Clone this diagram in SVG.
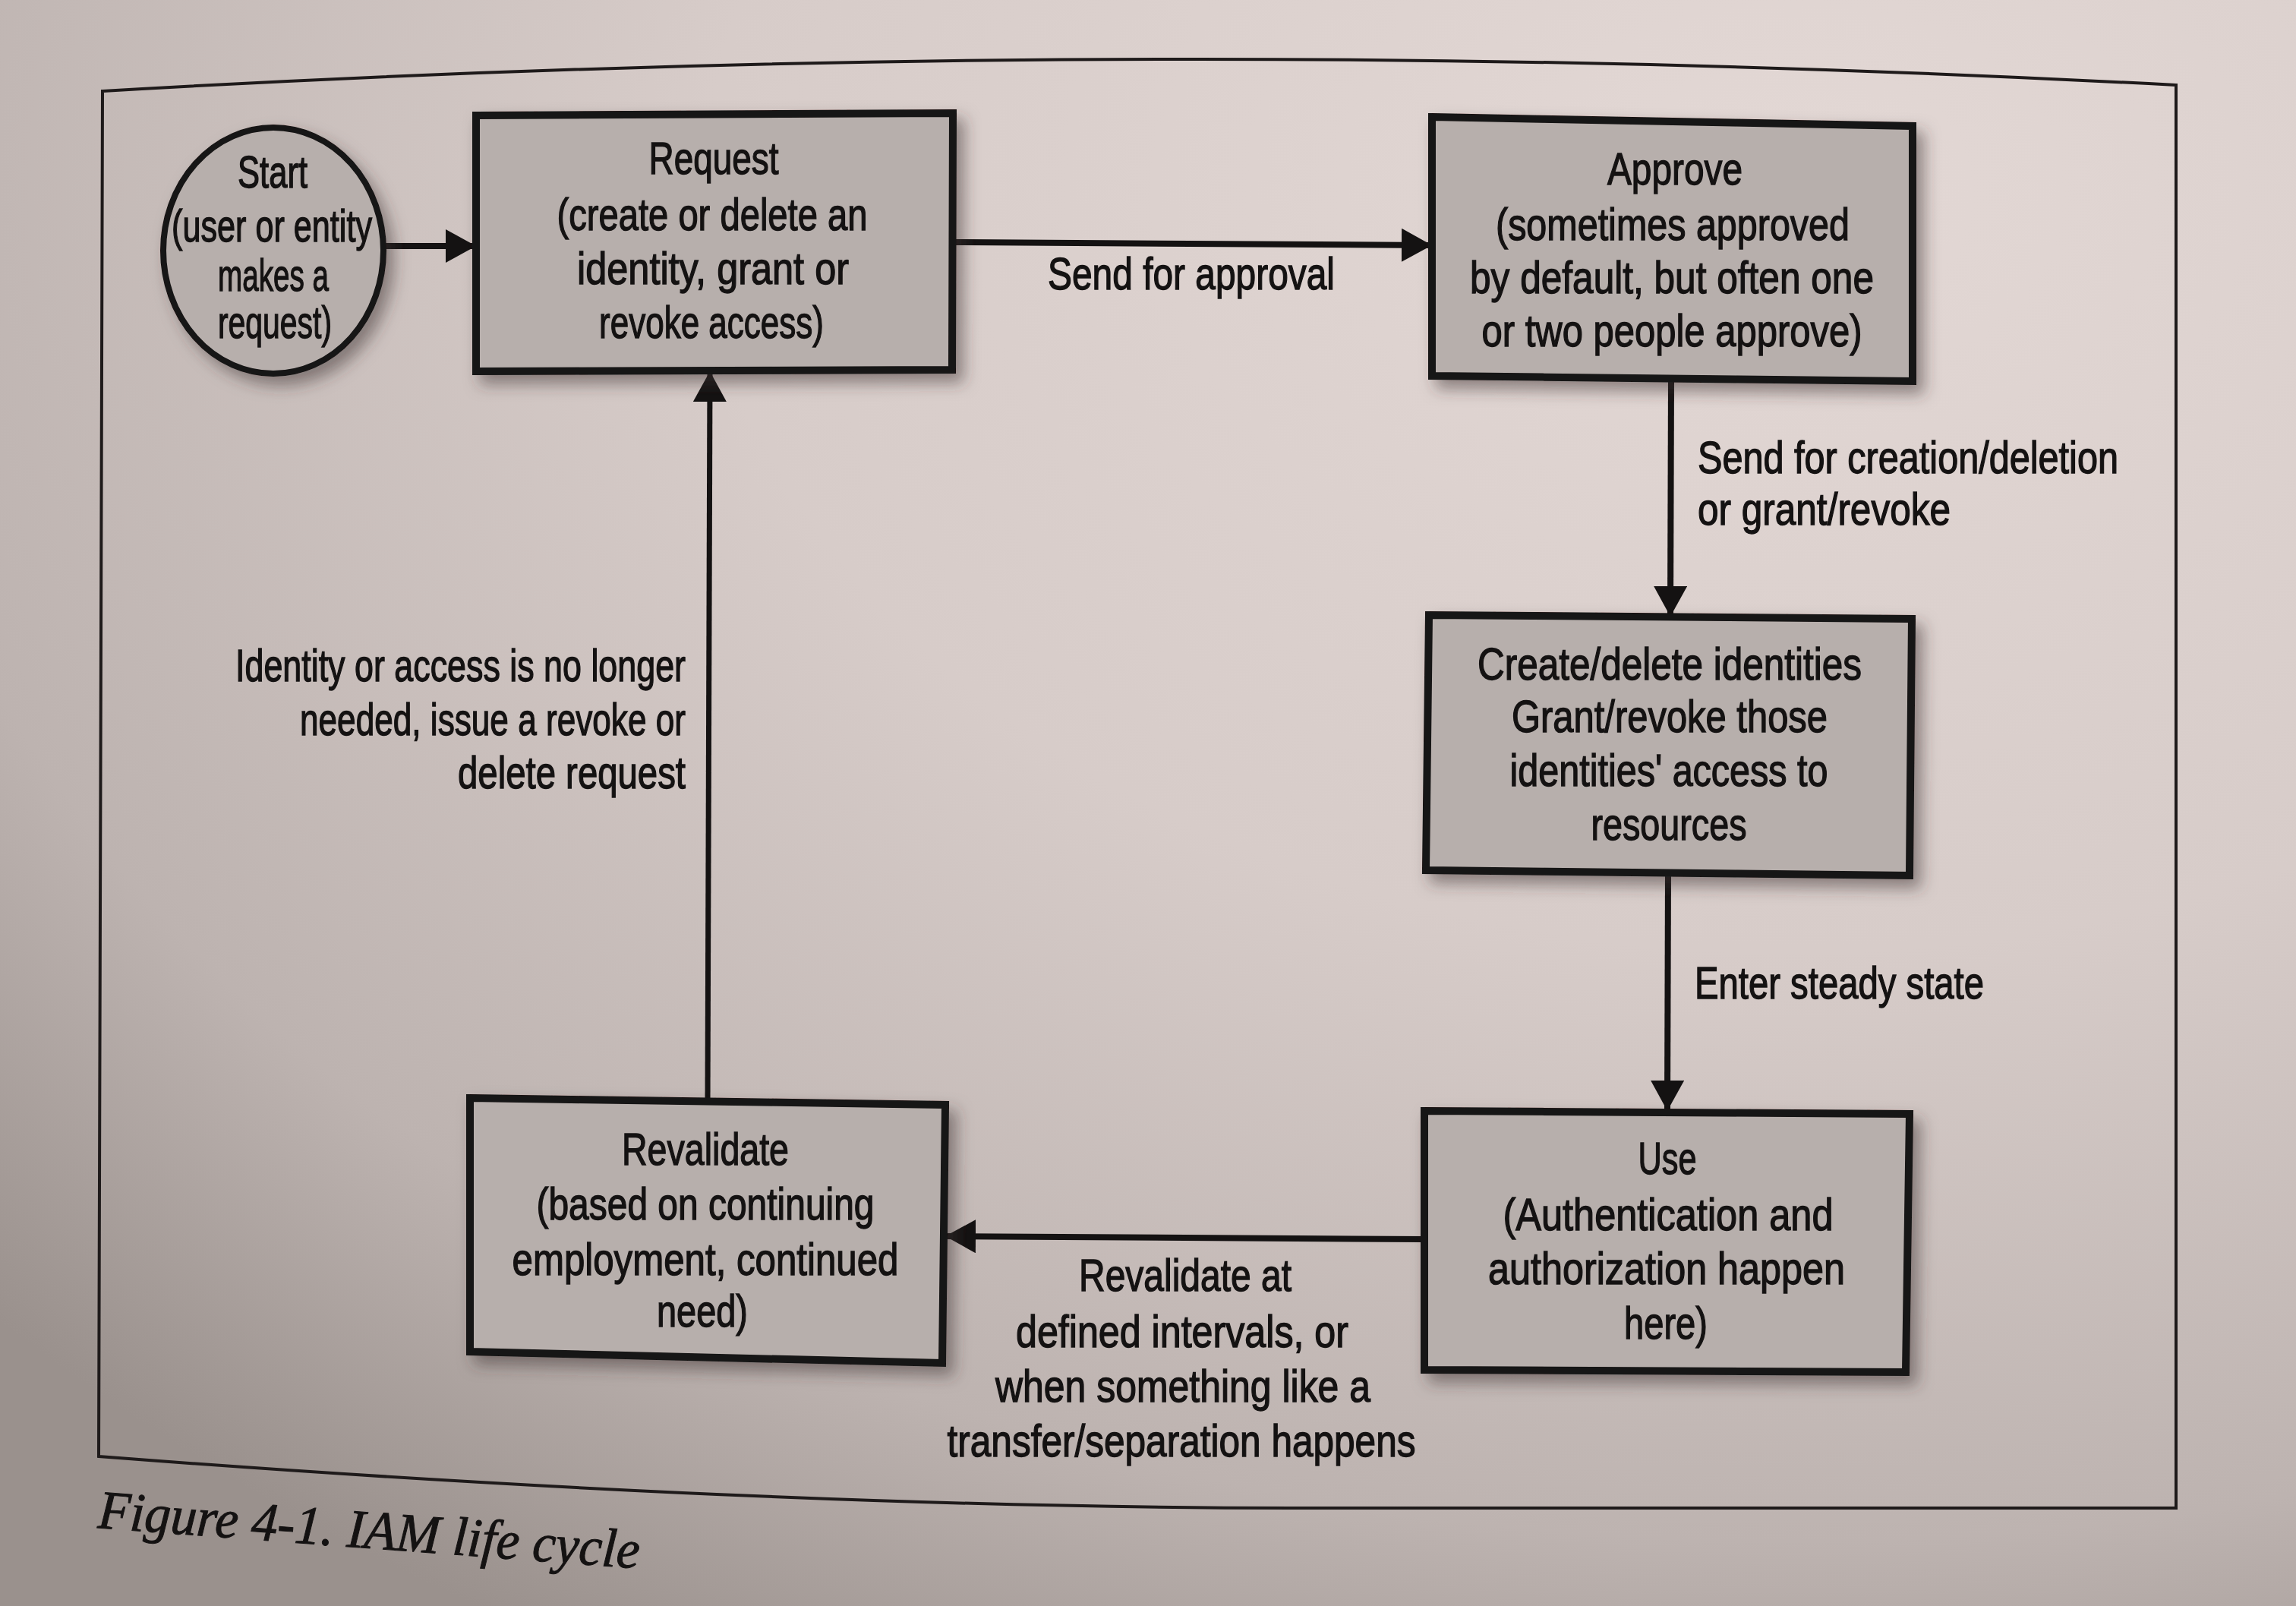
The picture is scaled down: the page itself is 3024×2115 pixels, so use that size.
<svg xmlns="http://www.w3.org/2000/svg" width="3024" height="2115" viewBox="0 0 3024 2115">
<defs>
<radialGradient id="page" cx="0.78" cy="0.12" r="1.05" gradientUnits="objectBoundingBox">
<stop offset="0" stop-color="#e3d8d5"/>
<stop offset="0.45" stop-color="#d7ccc9"/>
<stop offset="0.8" stop-color="#bdb3b0"/>
<stop offset="1" stop-color="#9a918d"/>
</radialGradient>
<filter id="shadow" x="-10%" y="-10%" width="125%" height="130%">
<feDropShadow dx="10" dy="12" stdDeviation="10" flood-color="#3a3230" flood-opacity="0.5"/>
</filter>
<marker id="arrow" markerUnits="userSpaceOnUse" markerWidth="42" markerHeight="46" refX="40" refY="22" orient="auto">
<path d="M0,0 L40,22 L0,44 Z" fill="#141212"/>
</marker>
<style>
.box{fill:#b7afac;stroke:#141212;stroke-width:10;stroke-linejoin:miter;filter:url(#shadow)}
.t{font-family:"Liberation Sans Narrow","Liberation Sans",Arial,sans-serif;font-size:60px;fill:#141212;stroke:#141212;stroke-width:1.4;text-anchor:middle}
.l{text-anchor:start}
.r{text-anchor:end}
.c{fill:none;stroke:#141212;stroke-width:8;marker-end:url(#arrow)}
.frame{fill:none;stroke:#1e1a1a;stroke-width:4}
.cap{font-family:"Liberation Serif","Times New Roman",serif;font-style:italic;font-size:72px;fill:#141212;stroke:#141212;stroke-width:1}
</style>
</defs>
<rect x="0" y="0" width="3024" height="2115" fill="url(#page)"/>
<path class="frame" d="M135,120 Q1512,40 2866,112 L2866,1986 L1700,1986 Q1000,1985 130,1918 Z"/>

<g id="connectors">
<path class="c" d="M505,324 L627,324"/>
<path class="c" d="M1255,319 L1886,323"/>
<path class="c" d="M2201,500 L2200,812"/>
<path class="c" d="M2197,1150 L2196,1463"/>
<path class="c" d="M1876,1632 L1245,1628"/>
<path class="c" style="stroke-width:7" d="M932,1449 L935,489"/>
<text class="t l" x="1380" y="381" textLength="378" lengthAdjust="spacingAndGlyphs">Send for approval</text>
<text class="t l" x="2236" y="623" textLength="554" lengthAdjust="spacingAndGlyphs">Send for creation/deletion</text>
<text class="t l" x="2236" y="691" textLength="333" lengthAdjust="spacingAndGlyphs">or grant/revoke</text>
<text class="t l" x="2232" y="1315" textLength="381" lengthAdjust="spacingAndGlyphs">Enter steady state</text>
<text class="t" x="1561" y="1700" textLength="280" lengthAdjust="spacingAndGlyphs">Revalidate at</text>
<text class="t" x="1557" y="1774" textLength="438" lengthAdjust="spacingAndGlyphs">defined intervals, or</text>
<text class="t" x="1558" y="1846" textLength="494" lengthAdjust="spacingAndGlyphs">when something like a</text>
<text class="t" x="1556" y="1918" textLength="617" lengthAdjust="spacingAndGlyphs">transfer/separation happens</text>
<text class="t r" x="903" y="897" textLength="593" lengthAdjust="spacingAndGlyphs">Identity or access is no longer</text>
<text class="t r" x="903" y="968" textLength="508" lengthAdjust="spacingAndGlyphs">needed, issue a revoke or</text>
<text class="t r" x="903" y="1038" textLength="300" lengthAdjust="spacingAndGlyphs">delete request</text>
</g>

<g id="start">
<ellipse class="box" style="stroke-width:8" cx="360" cy="330" rx="145" ry="162"/>
<text class="t" x="359" y="247" textLength="92" lengthAdjust="spacingAndGlyphs">Start</text>
<text class="t" x="358" y="318" textLength="264" lengthAdjust="spacingAndGlyphs">(user or entity</text>
<text class="t" x="360" y="383" textLength="146" lengthAdjust="spacingAndGlyphs">makes a</text>
<text class="t" x="362" y="445" textLength="150" lengthAdjust="spacingAndGlyphs">request)</text>
</g>

<g id="request">
<polygon class="box" points="627,152 1255,149 1254,487 627,489"/>
<text class="t" x="940" y="229" textLength="171" lengthAdjust="spacingAndGlyphs">Request</text>
<text class="t" x="938" y="303" textLength="409" lengthAdjust="spacingAndGlyphs">(create or delete an</text>
<text class="t" x="939" y="374" textLength="358" lengthAdjust="spacingAndGlyphs">identity, grant or</text>
<text class="t" x="937" y="445" textLength="296" lengthAdjust="spacingAndGlyphs">revoke access)</text>
</g>

<g id="approve">
<polygon class="box" points="1886,154 2519,166 2519,502 1886,495"/>
<text class="t" x="2206" y="243" textLength="178" lengthAdjust="spacingAndGlyphs">Approve</text>
<text class="t" x="2203" y="316" textLength="466" lengthAdjust="spacingAndGlyphs">(sometimes approved</text>
<text class="t" x="2202" y="386" textLength="532" lengthAdjust="spacingAndGlyphs">by default, but often one</text>
<text class="t" x="2202" y="456" textLength="501" lengthAdjust="spacingAndGlyphs">or two people approve)</text>
</g>

<g id="create">
<polygon class="box" points="1882,810 2518,815 2515,1153 1878,1146"/>
<text class="t" x="2199" y="895" textLength="506" lengthAdjust="spacingAndGlyphs">Create/delete identities</text>
<text class="t" x="2199" y="964" textLength="416" lengthAdjust="spacingAndGlyphs">Grant/revoke those</text>
<text class="t" x="2198" y="1035" textLength="419" lengthAdjust="spacingAndGlyphs">identities' access to</text>
<text class="t" x="2198" y="1106" textLength="205" lengthAdjust="spacingAndGlyphs">resources</text>
</g>

<g id="use">
<polygon class="box" points="1876,1463 2515,1467 2510,1807 1876,1804"/>
<text class="t" x="2196" y="1546" textLength="77" lengthAdjust="spacingAndGlyphs">Use</text>
<text class="t" x="2197" y="1620" textLength="435" lengthAdjust="spacingAndGlyphs">(Authentication and</text>
<text class="t" x="2195" y="1691" textLength="470" lengthAdjust="spacingAndGlyphs">authorization happen</text>
<text class="t" x="2194" y="1763" textLength="110" lengthAdjust="spacingAndGlyphs">here)</text>
</g>

<g id="revalidate">
<polygon class="box" points="619,1446 1245,1455 1241,1795 619,1780"/>
<text class="t" x="929" y="1534" textLength="220" lengthAdjust="spacingAndGlyphs">Revalidate</text>
<text class="t" x="929" y="1606" textLength="445" lengthAdjust="spacingAndGlyphs">(based on continuing</text>
<text class="t" x="929" y="1679" textLength="509" lengthAdjust="spacingAndGlyphs">employment, continued</text>
<text class="t" x="925" y="1747" textLength="120" lengthAdjust="spacingAndGlyphs">need)</text>
</g>

<g id="caption">
<text class="cap" x="128" y="2012" transform="rotate(4.3 128 2012)" textLength="715" lengthAdjust="spacingAndGlyphs">Figure 4-1. IAM life cycle</text>
</g>
</svg>
